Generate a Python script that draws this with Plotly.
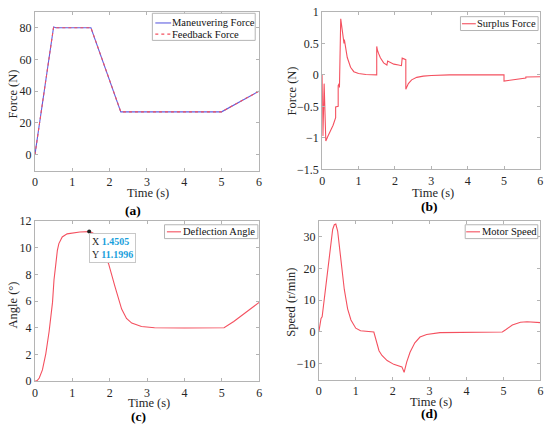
import plotly.graph_objects as go

# (a) maneuvering / feedback force
t_a = [0, 0.5, 0.56, 1.5, 2.3, 5.0, 6.0]
maneuver_force = [0, 80.5, 80, 80, 27, 27, 40]
feedback_force = [0, 80.5, 80, 80, 27, 27, 40]

# (b) surplus force
t_b = [0, 0.02, 0.054, 0.1, 0.16, 0.235, 0.3, 0.37, 0.37, 0.44, 0.44, 0.47,
       0.475, 0.51, 0.55, 0.58, 0.6, 0.61, 0.63, 0.69, 0.78, 0.87, 1.0, 1.2,
       1.5, 1.5, 1.52, 1.55, 1.6, 1.69, 1.78, 1.8, 1.9, 1.97, 2.1, 2.18, 2.2,
       2.26, 2.3, 2.3, 2.37, 2.46, 2.6, 2.78, 3.0, 3.5, 5.0, 5.0, 5.33, 5.6,
       5.6, 6.0]
surplus_force = [0, -0.97, -0.14, -1.05, -0.97, -0.89, -0.8, -0.68, -0.51,
                 -0.5, -0.17, -0.14, -0.2, 0.89, 0.7, 0.56, 0.5, 0.56, 0.48,
                 0.275, 0.12, 0.05, 0.02, 0.005, 0, 0.45, 0.39, 0.34, 0.27,
                 0.19, 0.155, 0.22, 0.19, 0.17, 0.155, 0.145, 0.265, 0.25,
                 0.24, -0.23, -0.14, -0.08, -0.04, -0.02, -0.01, 0, 0, -0.1,
                 -0.067, -0.05, -0.035, -0.03]

# (c) deflection angle
t_c = [0, 0.06, 0.115, 0.2, 0.29, 0.38, 0.47, 0.51, 0.56, 0.6, 0.64, 0.73,
       0.86, 1.0, 1.2, 1.4505, 1.55, 1.65, 1.75, 1.85, 1.97, 2.14, 2.32, 2.45,
       2.59, 2.85, 3.2, 4.0, 5.06, 5.32, 5.67, 6.0]
deflection_angle = [0, 0.05, 0.24, 0.85, 2.05, 3.74, 5.9, 7.6, 8.8, 9.8, 10.3,
                    10.8, 11.03, 11.1, 11.17, 11.1996, 11.1, 10.7, 10.1, 9.5,
                    8.8, 7.1, 5.4, 4.7, 4.35, 4.1, 4.0, 3.98, 4.0, 4.47, 5.2,
                    5.9]
tip_x, tip_y = 1.4505, 11.1996

# (d) motor speed
t_d = [0, 0.06, 0.09, 0.15, 0.24, 0.33, 0.375, 0.42, 0.46, 0.51, 0.6, 0.69,
       0.78, 0.87, 1.0, 1.13, 1.49, 1.54, 1.63, 1.71, 1.85, 2.03, 2.2, 2.25,
       2.31, 2.38, 2.47, 2.6, 2.74, 2.92, 3.28, 4.97, 5.06, 5.24, 5.46, 5.64,
       6.0]
motor_speed = [0, 4.3, 4.8, 10.4, 20.6, 28.7, 32.3, 33.8, 34, 31.8, 22.6,
               13.4, 7.3, 3.8, 1.2, 0.4, 0, -2.3, -5.9, -7.4, -9, -10.2,
               -10.8, -11, -12.7, -9.5, -6.4, -3.4, -1.6, -0.8, -0.2, 0, 0.7,
               2.2, 3.05, 3.25, 2.95]

RED = "#f4505f"
BLUE = "#5f5fe0"
FONT = "Liberation Serif"
AXIS_GREY = "#b4b4b4"
TEXT = "#262626"

W, H = 550, 435


def fx(x):
    return min(1, max(0, x / W))


def fy(y):
    return min(1, max(0, 1 - y / H))


def px(x0, x1):
    return [fx(x0), fx(x1)]


def py(top, bottom):
    return [fy(bottom), fy(top)]


fig = go.Figure()

fig.add_trace(go.Scatter(x=t_a, y=maneuver_force, name="Maneuvering Force",
                         mode="lines", line=dict(color=BLUE, width=1.1),
                         xaxis="x", yaxis="y"))
fig.add_trace(go.Scatter(x=t_a, y=feedback_force, name="Feedback Force",
                         mode="lines", line=dict(color=RED, width=1.1, dash="dot"),
                         xaxis="x", yaxis="y"))
fig.add_trace(go.Scatter(x=t_b, y=surplus_force, name="Surplus Force",
                         mode="lines", line=dict(color=RED, width=1.1),
                         xaxis="x2", yaxis="y2"))
fig.add_trace(go.Scatter(x=t_c, y=deflection_angle, name="Deflection Angle",
                         mode="lines", line=dict(color=RED, width=1.1),
                         xaxis="x3", yaxis="y3"))
fig.add_trace(go.Scatter(x=[tip_x], y=[tip_y], mode="markers",
                         marker=dict(color="#202020", size=4),
                         xaxis="x3", yaxis="y3"))
fig.add_trace(go.Scatter(x=t_d, y=motor_speed, name="Motor Speed",
                         mode="lines", line=dict(color=RED, width=1.1),
                         xaxis="x4", yaxis="y4"))


def axis(domain, rng, tickvals, anchor):
    return dict(domain=domain, range=rng, anchor=anchor, tickvals=tickvals,
                showgrid=False, zeroline=False,
                showline=True, linecolor=AXIS_GREY, linewidth=1, mirror="ticks",
                ticks="inside", ticklen=3, tickcolor=AXIS_GREY,
                tickfont=dict(family=FONT, size=12, color=TEXT))


time_ticks = [0, 1, 2, 3, 4, 5, 6]
fig.update_layout(
    xaxis=axis(px(32.3, 258.7), [0, 6], time_ticks, "y"),
    yaxis=axis(py(5, 169), [-10, 90], [0, 20, 40, 60, 80], "x"),
    xaxis2=axis(px(322.7, 543.3), [0, 6], time_ticks, "y2"),
    yaxis2=axis(py(5, 167.7), [-1.5, 1], [-1.5, -1, -0.5, 0, 0.5, 1], "x2"),
    xaxis3=axis(px(32.3, 259), [0, 6], time_ticks, "y3"),
    yaxis3=axis(py(221, 386.7), [0, 12], [0, 2, 4, 6, 8, 10, 12], "x3"),
    xaxis4=axis(px(319.3, 543.3), [0, 6], time_ticks, "y4"),
    yaxis4=axis(py(221, 385), [-15, 35], [-10, 0, 10, 20, 30], "x4"),
)


def label(text, x, y, size=12.5, angle=0, bold=False, color=TEXT):
    if bold:
        text = "<b>%s</b>" % text
    fig.add_annotation(text=text, x=fx(x), y=fy(y), xref="paper", yref="paper",
                       showarrow=False, xanchor="center", yanchor="middle",
                       textangle=angle, font=dict(family=FONT, size=size, color=color))


# axis titles
for x, y in [(146.3, 192), (435, 192), (147.5, 408.8), (432.5, 407.8)]:
    label("Time (s)", x, y)
label("Force (N)", 10.5, 90, angle=-90)
label("Force (N)", 291.7, 86.7, angle=-90)
label("Angle (°)", 10.5, 308, angle=-90)
label("Speed (r/min)", 291.7, 305, angle=-90)

# panel captions
for text, cx, cy in [("(a)", 131.7, 210.5), ("(b)", 431.7, 206),
                     ("(c)", 136.7, 423.5), ("(d)", 431.7, 420)]:
    label(text, cx, cy, size=13.5, bold=True, color="black")


def legend_box(x0, x1, y0, y1, lx0, lx1, tx, entries):
    fig.add_shape(type="rect", xref="paper", yref="paper",
                  x0=fx(x0), x1=fx(x1), y0=fy(y1), y1=fy(y0),
                  line=dict(color=AXIS_GREY, width=1), fillcolor="white")
    for name, color, dash, yc in entries:
        fig.add_shape(type="line", xref="paper", yref="paper",
                      x0=fx(lx0), x1=fx(lx1), y0=fy(yc), y1=fy(yc),
                      line=dict(color=color, width=1.1, dash=dash))
        fig.add_annotation(text=name, x=fx(tx), y=fy(yc), xref="paper",
                           yref="paper", showarrow=False, xanchor="left",
                           yanchor="middle", xshift=-2,
                           font=dict(family=FONT, size=10.5, color="#111111"))


legend_box(151, 255, 6.5, 34.5, 154, 170, 171,
           [("Maneuvering Force", BLUE, "solid", 16.5),
            ("Feedback Force", RED, "dot", 28)])
legend_box(462.5, 541, 10, 24.3, 464, 478, 479,
           [("Surplus Force", RED, "solid", 17.3)])
legend_box(163.3, 257.7, 225, 239.3, 165.7, 180, 181.7,
           [("Deflection Angle", RED, "solid", 232.3)])
legend_box(467.3, 540.7, 225, 239.3, 468.3, 482.3, 484,
           [("Motor Speed", RED, "solid", 232.3)])

# data tip
tip_blue = "#1a9fdc"
fig.add_annotation(
    text=("X <span style='color:%s'><b>%.4f</b></span><br>"
          "Y <span style='color:%s'><b>%.4f</b></span>") % (tip_blue, tip_x, tip_blue, tip_y),
    x=tip_x, y=tip_y, xref="x3", yref="y3", xanchor="left", yanchor="top",
    yshift=-1, align="left", showarrow=False,
    bgcolor="white", bordercolor="#c8c8c8", borderwidth=1, borderpad=2,
    font=dict(family=FONT, size=10, color=TEXT))

fig.update_layout(width=W, height=H, margin=dict(l=0, r=0, t=0, b=0),
                  paper_bgcolor="white", plot_bgcolor="white",
                  showlegend=False, hovermode=False)

# drop the browser's default 8px body margin so the figure fills the window
fig.write_html("out.html", config={"displayModeBar": False},
               post_script="document.body.style.margin = '0px';")
